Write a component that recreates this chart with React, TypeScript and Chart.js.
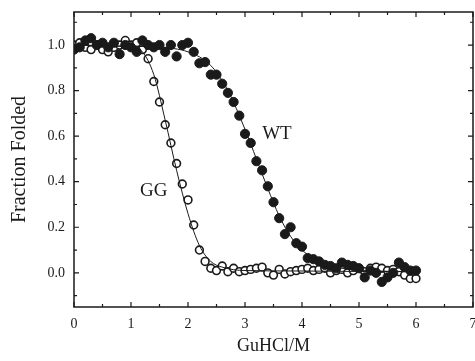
import React, { useEffect, useRef } from "react";
import { Chart, registerables } from "chart.js";

Chart.register(...registerables);

// Denaturant concentration (M) for both data sets
const conc = [
  0.0, 0.1, 0.2, 0.3, 0.4, 0.5, 0.6, 0.7, 0.8, 0.9,
  1.0, 1.1, 1.2, 1.3, 1.4, 1.5, 1.6, 1.7, 1.8, 1.9,
  2.0, 2.1, 2.2, 2.3, 2.4, 2.5, 2.6, 2.7, 2.8, 2.9,
  3.0, 3.1, 3.2, 3.3, 3.4, 3.5, 3.6, 3.7, 3.8, 3.9,
  4.0, 4.1, 4.2, 4.3, 4.4, 4.5, 4.6, 4.7, 4.8, 4.9,
  5.0, 5.1, 5.2, 5.3, 5.4, 5.5, 5.6, 5.7, 5.8, 5.9, 6.0,
];

// WT (filled circles)
const wtFolded = [
  0.98, 0.99, 1.02, 1.03, 1.0, 1.01, 0.99, 1.01, 0.96, 1.0,
  0.99, 0.97, 1.02, 1.0, 0.99, 1.0, 0.97, 1.0, 0.95, 1.0,
  1.01, 0.97, 0.92, 0.925, 0.87, 0.87, 0.83, 0.79, 0.75, 0.69,
  0.61, 0.57, 0.49, 0.45, 0.38, 0.31, 0.24, 0.17, 0.2, 0.13,
  0.115, 0.065, 0.06, 0.05, 0.035, 0.03, 0.02, 0.045, 0.035, 0.03,
  0.02, -0.02, 0.01, 0.0, -0.04, -0.02, 0.0, 0.045, 0.025, 0.01, 0.01,
];

// GG (open circles)
const ggFolded = [
  1.0, 1.01, 0.99, 0.98, 1.0, 0.98, 0.97, 0.99, 1.0, 1.02,
  1.0, 1.01, 0.98, 0.94, 0.84, 0.75, 0.65, 0.57, 0.48, 0.39,
  0.32, 0.21, 0.1, 0.05, 0.02, 0.01, 0.03, 0.005, 0.02, 0.005,
  0.01, 0.015, 0.02, 0.025, 0.0, -0.01, 0.015, -0.005, 0.005, 0.01,
  0.015, 0.02, 0.01, 0.015, 0.02, 0.0, 0.01, 0.015, 0.0, 0.01,
  0.02, 0.005, 0.02, 0.025, 0.02, 0.01, 0.015, 0.005, -0.01, -0.025, -0.025,
];

// Fitted curves
const ggFitX = [0.0, 0.6, 1.0, 1.2, 1.4, 1.6, 1.8, 2.0, 2.2, 2.4, 2.6, 3.0, 4.0, 5.0, 6.0];
const ggFitY = [1.0, 0.995, 0.99, 0.97, 0.87, 0.67, 0.45, 0.26, 0.12, 0.05, 0.025, 0.01, 0.008, 0.006, 0.005];
const wtFitX = [0.0, 1.0, 1.5, 2.0, 2.4, 2.7, 3.0, 3.2, 3.4, 3.6, 3.8, 4.0, 4.3, 4.6, 5.0, 6.0];
const wtFitY = [1.0, 0.995, 0.99, 0.97, 0.91, 0.8, 0.63, 0.5, 0.37, 0.25, 0.16, 0.1, 0.05, 0.025, 0.012, 0.005];

// Axis ticks
const xMajorTicks = [0, 1, 2, 3, 4, 5, 6, 7];
const xMinorTicks = [0.5, 1.5, 2.5, 3.5, 4.5, 5.5, 6.5];
const yMajorTicks = [0.0, 0.2, 0.4, 0.6, 0.8, 1.0];
const yMinorTicks = [-0.1, 0.1, 0.3, 0.5, 0.7, 0.9, 1.1];

// Curve labels
const curveLabels = [
  { text: "GG", x: 1.4, y: 0.36 },
  { text: "WT", x: 3.56, y: 0.61 },
];

const FONT = "'Liberation Serif', 'DejaVu Serif', serif";
const INK = "#1a1a1a";

const framePlugin = {
  id: "frameTicks",
  afterDraw(chart: any) {
    const { ctx, chartArea, scales } = chart;
    const { left, right, top, bottom } = chartArea;
    const xs = scales.x;
    const ys = scales.y;
    ctx.save();
    ctx.strokeStyle = INK;
    ctx.lineWidth = 1.5;
    ctx.strokeRect(left, top, right - left, bottom - top);
    ctx.lineWidth = 1.2;
    const drawX = (vals: number[], len: number) => {
      vals.forEach((v) => {
        const px = xs.getPixelForValue(v);
        ctx.beginPath();
        ctx.moveTo(px, bottom);
        ctx.lineTo(px, bottom - len);
        ctx.moveTo(px, top);
        ctx.lineTo(px, top + len);
        ctx.stroke();
      });
    };
    const drawY = (vals: number[], len: number) => {
      vals.forEach((v) => {
        const py = ys.getPixelForValue(v);
        ctx.beginPath();
        ctx.moveTo(left, py);
        ctx.lineTo(left + len, py);
        ctx.moveTo(right, py);
        ctx.lineTo(right - len, py);
        ctx.stroke();
      });
    };
    drawX(xMajorTicks, 5);
    drawX(xMinorTicks, 3);
    drawY(yMajorTicks, 5);
    drawY(yMinorTicks, 3);

    ctx.fillStyle = INK;
    ctx.font = `19px ${FONT}`;
    ctx.textAlign = "center";
    ctx.textBaseline = "middle";
    curveLabels.forEach((l) => {
      ctx.fillText(l.text, xs.getPixelForValue(l.x), ys.getPixelForValue(l.y));
    });
    ctx.restore();
  },
};

export default function App() {
  const ref = useRef<HTMLCanvasElement | null>(null);

  useEffect(() => {
    document.body.style.margin = "0";
    if (!ref.current) return;
    const chart = new Chart(ref.current, {
      type: "scatter",
      data: {
        datasets: [
          {
            type: "line",
            data: ggFitX.map((x, i) => ({ x, y: ggFitY[i] })),
            borderColor: INK,
            borderWidth: 1,
            pointRadius: 0,
            cubicInterpolationMode: "monotone",
            fill: false,
          } as any,
          {
            type: "line",
            data: wtFitX.map((x, i) => ({ x, y: wtFitY[i] })),
            borderColor: INK,
            borderWidth: 1,
            pointRadius: 0,
            cubicInterpolationMode: "monotone",
            fill: false,
          } as any,
          {
            label: "WT",
            data: conc.map((x, i) => ({ x, y: wtFolded[i] })),
            backgroundColor: INK,
            borderColor: INK,
            borderWidth: 1,
            pointRadius: 4.6,
          },
          {
            label: "GG",
            data: conc.map((x, i) => ({ x, y: ggFolded[i] })),
            backgroundColor: "#ffffff",
            borderColor: INK,
            borderWidth: 1.6,
            pointRadius: 3.9,
          },
        ],
      },
      options: {
        animation: false,
        responsive: false,
        layout: { autoPadding: false, padding: { top: 12, right: 2, left: 0, bottom: 0 } },
        plugins: {
          legend: { display: false },
          tooltip: { enabled: false },
        },
        scales: {
          x: {
            type: "linear",
            min: 0,
            max: 7,
            grid: { display: false, drawTicks: false },
            border: { display: false },
            afterBuildTicks: (s: any) => {
              s.ticks = xMajorTicks.map((v) => ({ value: v }));
            },
            afterFit: (s: any) => {
              s.height = 54;
              s.paddingLeft = 0;
              s.paddingRight = 0;
            },
            ticks: {
              padding: 9,
              color: INK,
              font: { family: FONT, size: 14 },
              callback: (v: any) => String(v),
            },
            title: {
              display: true,
              text: "GuHCl/M",
              color: INK,
              font: { family: FONT, size: 18 },
              padding: { top: 0, bottom: 4 },
            },
          },
          y: {
            type: "linear",
            min: -0.15,
            max: 1.145,
            grid: { display: false, drawTicks: false },
            border: { display: false },
            afterBuildTicks: (s: any) => {
              s.ticks = yMajorTicks.map((v) => ({ value: v }));
            },
            afterFit: (s: any) => {
              s.width = 74;
              s.paddingTop = 0;
              s.paddingBottom = 0;
            },
            ticks: {
              padding: 9,
              color: INK,
              font: { family: FONT, size: 14 },
              callback: (v: any) => Number(v).toFixed(1),
            },
            title: {
              display: true,
              text: "Fraction Folded",
              color: INK,
              font: { family: FONT, size: 20 },
              padding: { top: 8, bottom: 0 },
            },
          },
        },
      },
      plugins: [framePlugin],
    });
    return () => chart.destroy();
  }, []);

  return (
    <div style={{ width: 475, height: 361 }}>
      <canvas ref={ref} width={475} height={361} />
    </div>
  );
}
